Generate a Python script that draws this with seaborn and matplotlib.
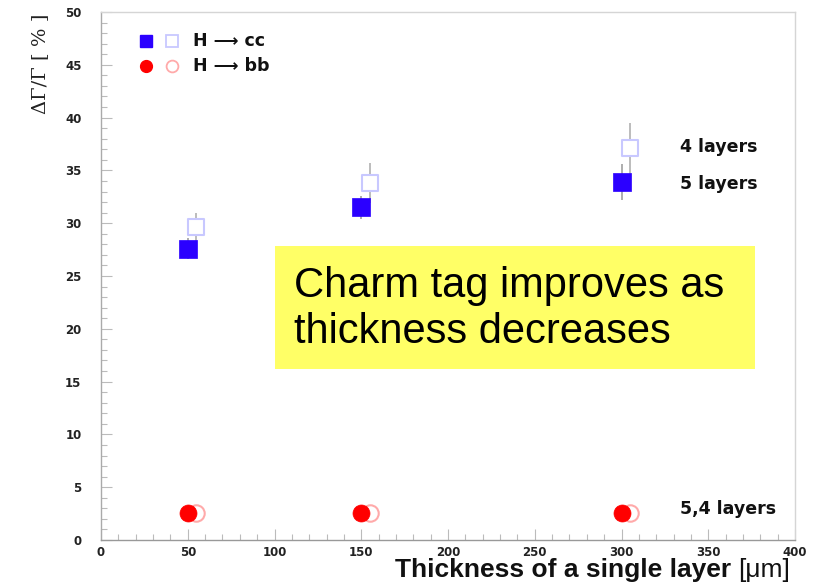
import matplotlib
matplotlib.use("Agg")
import matplotlib.pyplot as plt
import seaborn as sns
import pandas as pd
from matplotlib.ticker import MultipleLocator
from matplotlib.patches import Rectangle

sns.set_theme(style="white")
plt.rcParams['font.family'] = ['Liberation Sans', 'DejaVu Sans']

thickness = [50, 150, 300]
cc_5layers = [27.6, 31.5, 33.9]
cc_5layers_err = [1.0, 1.1, 1.7]
cc_4layers = [29.6, 33.8, 37.1]
cc_4layers_err = [1.4, 1.9, 2.4]
bb_5layers = [2.6, 2.6, 2.6]
bb_4layers = [2.6, 2.6, 2.6]

offset = 5  # horizontal shift for the 4-layer points

fig = plt.figure(figsize=(8.21, 5.85), dpi=100)
ax = fig.add_axes([101/821, 45/585, 694/821, 528/585])

xs4 = [t + offset for t in thickness]

ax.errorbar(xs4, cc_4layers, yerr=cc_4layers_err, fmt='none', ecolor='#b0b0b0', elinewidth=1.2, zorder=1)
ax.errorbar(thickness, cc_5layers, yerr=cc_5layers_err, fmt='none', ecolor='#a0a0a0', elinewidth=1.2, zorder=1)

df_cc4 = pd.DataFrame({'x': xs4, 'y': cc_4layers})
df_cc5 = pd.DataFrame({'x': thickness, 'y': cc_5layers})
df_bb4 = pd.DataFrame({'x': xs4, 'y': bb_4layers})
df_bb5 = pd.DataFrame({'x': thickness, 'y': bb_5layers})

sns.scatterplot(data=df_cc4, x='x', y='y', marker='s', s=140, facecolor='white',
                edgecolor='#c8c8ff', linewidth=1.5, ax=ax, zorder=2)
sns.scatterplot(data=df_cc5, x='x', y='y', marker='s', s=150, color='#2b00ff',
                edgecolor='#2b00ff', linewidth=0.5, ax=ax, zorder=3)
sns.scatterplot(data=df_bb4, x='x', y='y', marker='o', s=140, facecolor='white',
                edgecolor='#ffaaaa', linewidth=1.5, ax=ax, zorder=2)
sns.scatterplot(data=df_bb5, x='x', y='y', marker='o', s=150, color='#ff0000',
                edgecolor='#ff0000', linewidth=0.5, ax=ax, zorder=3)

ax.set_xlim(0, 400)
ax.set_ylim(0, 50)
ax.xaxis.set_major_locator(MultipleLocator(50))
ax.xaxis.set_minor_locator(MultipleLocator(10))
ax.yaxis.set_major_locator(MultipleLocator(5))
ax.yaxis.set_minor_locator(MultipleLocator(1))
ax.tick_params(axis='both', which='major', direction='in', length=8, width=0.8,
               color='#bbbbbb', labelsize=8.5)
ax.tick_params(axis='x', which='major', pad=4)
ax.tick_params(axis='y', which='major', pad=14)
ax.tick_params(axis='both', which='minor', direction='in', length=4, width=0.8, color='#bbbbbb')
ax.tick_params(axis='x', which='both', bottom=True, top=False)
ax.tick_params(axis='y', which='both', left=True, right=False)
for lab in ax.get_xticklabels() + ax.get_yticklabels():
    lab.set_fontweight('bold')
    lab.set_color('#222222')
    lab.set_family(['DejaVu Sans'])
for s in ax.spines.values():
    s.set_color('#d5d5d5')
    s.set_linewidth(1)
ax.spines['bottom'].set_color('#999999')
ax.spines['left'].set_color('#aaaaaa')

ax.set_xlabel('')
ax.set_ylabel('')
t_unit = fig.text(790/821, 1 - 570/585, '[μm]', ha='right', va='center',
                  fontsize=19, color='#111111')
ax.annotate('Thickness of a single layer ', xy=(0, 0.5), xycoords=t_unit,
            ha='right', va='center', fontsize=19, fontweight='bold',
            color='#111111', annotation_clip=False)
fig.text(40/821, 1 - 64/585, 'ΔΓ/Γ [ % ]', ha='center', va='center', rotation=90,
         fontsize=14, color='#222222', family=['DejaVu Serif'])

lab_kw = dict(fontsize=12.5, fontweight='bold', va='center', color='#111111',
              family=['DejaVu Sans'])
ax.plot([26], [47.3], marker='s', ms=8, color='#2b00ff', ls='none')
ax.plot([41], [47.3], marker='s', ms=8, mfc='white', mec='#c8c8ff', mew=1.3, ls='none')
ax.text(53, 47.3, 'H ⟶ cc', **lab_kw)
ax.plot([26], [44.9], marker='o', ms=8.5, color='#ff0000', ls='none')
ax.plot([41], [44.9], marker='o', ms=8.5, mfc='white', mec='#ffaaaa', mew=1.3, ls='none')
ax.text(53, 44.9, 'H ⟶ bb', **lab_kw)

ax.text(334, 37.2, '4 layers', **lab_kw)
ax.text(334, 33.7, '5 layers', **lab_kw)
ax.text(334, 2.9, '5,4 layers', **lab_kw)

fig.patches.append(Rectangle((275/821, 1 - 369/585), 480/821, 123/585,
                             transform=fig.transFigure, facecolor='#ffff66',
                             edgecolor='none', zorder=5))
fig.text(294/821, 1 - 309/585, 'Charm tag improves as\nthickness decreases',
         ha='left', va='center', fontsize=30, color='black', linespacing=1.2, zorder=6)

fig.savefig('out.png', dpi=100)
